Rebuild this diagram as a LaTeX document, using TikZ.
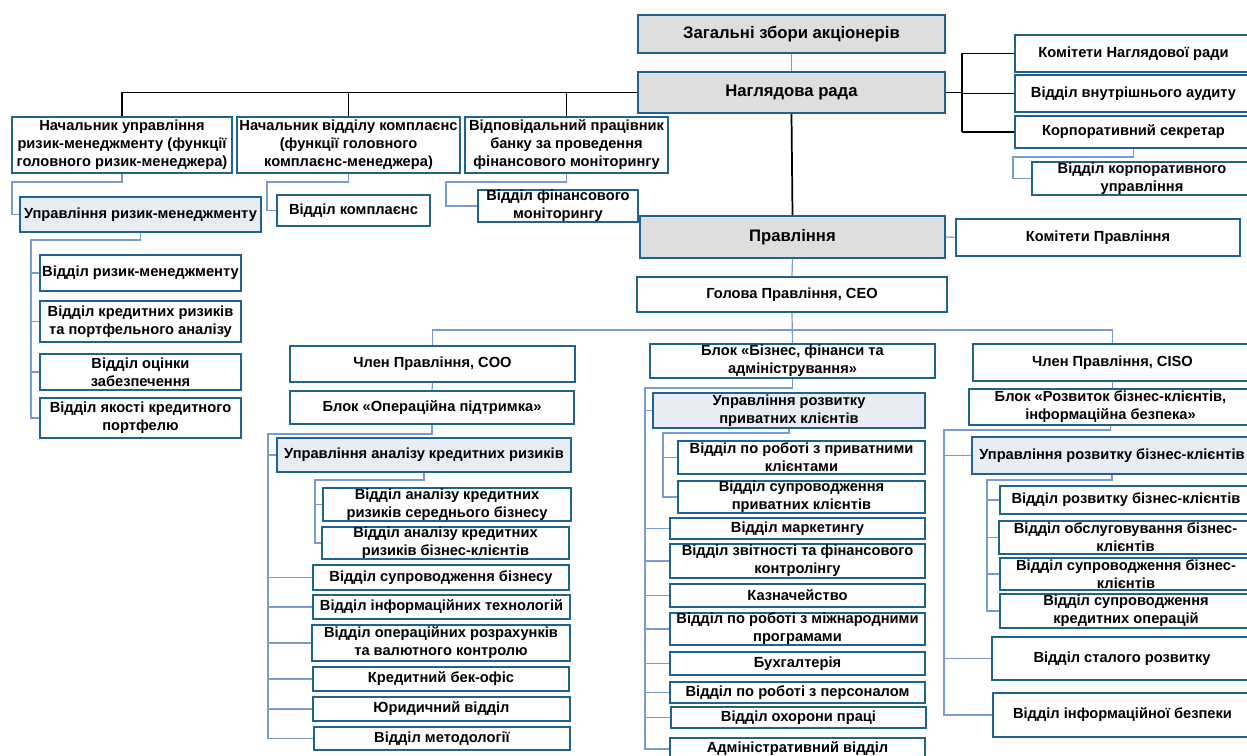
\documentclass[tikz,border=0pt]{standalone}
\usepackage{fontspec}
\setmainfont{Liberation Sans}
\definecolor{bord}{RGB}{31,100,145}
\definecolor{connc}{RGB}{120,155,210}
\definecolor{gfill}{RGB}{222,222,222}
\definecolor{lfill}{RGB}{232,237,245}
\tikzset{
 box/.style={draw=bord, line width=1.3pt, fill=white, align=center, font=\bfseries\fontsize{11}{13.5}\selectfont, inner sep=0pt},
 gbox/.style={box, fill=gfill, font=\bfseries\fontsize{12.5}{14}\selectfont},
 lbox/.style={box, fill=lfill},
 blk/.style={draw=black, line width=1.3pt},
 conn/.style={draw=connc, line width=0.9pt},
}
\newcommand\obox[7]{%
 \pgfmathsetlengthmacro\bxw{(#4-#2)*0.75pt}%
 \pgfmathsetlengthmacro\bxh{(#5-#3)*0.75pt}%
 \node[#6, minimum width=\bxw, minimum height=\bxh] (#1) at ({(#2+#4)/2},{(#3+#5)/2}) {#7};}
\begin{document}
\begin{tikzpicture}[x=0.75pt,y=-0.75pt]
\path[use as bounding box, fill=white] (0,0) rectangle (1247,756);
% top level
\obox{zb}{638}{15}{945}{53}{gbox}{Загальні збори акціонерів}
\obox{nr}{638}{72}{945}{113}{gbox}{Наглядова рада}
\obox{k1}{1015}{35}{1252}{72}{box}{Комітети Наглядової ради}
\obox{va}{1015}{75}{1252}{112}{box}{Відділ внутрішнього аудиту}
\obox{ks}{1015}{116}{1252}{148}{box}{Корпоративний секретар}
\obox{vku}{1032}{162}{1252}{195}{box}{Відділ корпоративного\\управління}
\obox{b1}{12}{117}{232}{173}{box}{Начальник управління\\ризик-менеджменту (функції\\головного ризик-менеджера)}
\obox{b2}{237}{117}{460}{173}{box}{Начальник відділу комплаєнс\\(функції головного\\комплаєнс-менеджера)}
\obox{b3}{465}{117}{668}{173}{box}{Відповідальний працівник\\банку за проведення\\фінансового моніторингу}
\obox{urm}{20}{197}{261}{232}{lbox}{Управління ризик-менеджменту}
\obox{vk}{277}{195}{430}{226}{box}{Відділ комплаєнс}
\obox{vfm}{478}{190}{638}{222}{box}{Відділ фінансового\\моніторингу}
\obox{pr}{640}{216}{945}{258}{gbox}{Правління}
\obox{kp}{956}{219}{1240}{256}{box}{Комітети Правління}
\obox{ceo}{637}{277}{947}{312}{box}{Голова Правління, CEO}
% risk management
\obox{v1}{40}{255}{241}{291}{box}{Відділ ризик-менеджменту}
\obox{v2}{40}{301}{241}{342}{box}{Відділ кредитних ризиків\\та портфельного аналізу}
\obox{v3}{40}{354}{241}{390}{box}{Відділ оцінки\\забезпечення}
\obox{v4}{40}{398}{241}{438}{box}{Відділ якості кредитного\\портфелю}
% COO
\obox{coo}{290}{346}{575}{382}{box}{Член Правління, COO}
\obox{ob}{290}{391}{574}{424}{box}{Блок «Операційна підтримка»}
\obox{uakr}{277}{438}{571}{472}{lbox}{Управління аналізу кредитних ризиків}
\obox{akb}{323}{488}{571}{521}{box}{Відділ аналізу кредитних\\ризиків середнього бізнесу}
\obox{aks}{322}{527}{569}{559}{box}{Відділ аналізу кредитних\\ризиків бізнес-клієнтів}
\obox{vsb}{313}{565}{569}{590}{box}{Відділ супроводження бізнесу}
\obox{vit}{313}{595}{570}{619}{box}{Відділ інформаційних технологій}
\obox{vor}{312}{625}{570}{661}{box}{Відділ операційних розрахунків\\та валютного контролю}
\obox{kbo}{313}{667}{569}{691}{box}{Кредитний бек-офіс}
\obox{yur}{313}{697}{570}{721}{box}{Юридичний відділ}
\obox{meth}{314}{727}{570}{750}{box}{Відділ методології}
% middle block
\obox{bfa}{650}{344}{935}{378}{box}{Блок «Бізнес, фінанси та\\адміністрування»}
\obox{urpk}{653}{393}{925}{428}{lbox}{Управління розвитку\\приватних клієнтів}
\obox{vpr}{678}{441}{925}{474}{box}{Відділ по роботі з приватними\\клієнтами}
\obox{vsp}{678}{481}{925}{513}{box}{Відділ супроводження\\приватних клієнтів}
\obox{mark}{670}{518}{925}{539}{box}{Відділ маркетингу}
\obox{zvit}{670}{544}{925}{578}{box}{Відділ звітності та фінансового\\контролінгу}
\obox{kazn}{670}{584}{925}{607}{box}{Казначейство}
\obox{mizh}{670}{613}{925}{645}{box}{Відділ по роботі з міжнародними\\програмами}
\obox{buh}{670}{652}{925}{675}{box}{Бухгалтерія}
\obox{pers}{670}{682}{925}{703}{box}{Відділ по роботі з персоналом}
\obox{ohor}{671}{707}{926}{728}{box}{Відділ охорони праці}
\obox{adm}{670}{738}{925}{760}{box}{Адміністративний відділ}
% CISO
\obox{ciso}{973}{344}{1252}{381}{box}{Член Правління, CISO}
\obox{brb}{969}{389}{1252}{425}{box}{Блок «Розвиток бізнес-клієнтів,\\інформаційна безпека»}
\obox{urbk}{972}{437}{1252}{474}{lbox}{Управління розвитку бізнес-клієнтів}
\obox{vrbk}{1000}{486}{1252}{514}{box}{Відділ розвитку бізнес-клієнтів}
\obox{vobk}{999}{521}{1252}{554}{box}{Відділ обслуговування бізнес-\\клієнтів}
\obox{vsbk}{1000}{558}{1252}{590}{box}{Відділ супроводження бізнес-\\клієнтів}
\obox{vsko}{1000}{594}{1252}{628}{box}{Відділ супроводження\\кредитних операцій}
\obox{vsr}{992}{637}{1252}{680}{box}{Відділ сталого розвитку}
\obox{vib}{993}{693}{1252}{737}{box}{Відділ інформаційної безпеки}

% ---- connectors: top
\draw[conn] (zb.south) -- (nr.north);
\coordinate (tl) at (b1.north |- nr.west);
\draw[blk] (nr.west) -- (tl) -- (b1.north);
\draw[blk] (b2.north) -- (b2.north |- nr.west);
\draw[blk] (b3.north) -- (b3.north |- nr.west);
\draw[blk] (nr.south) -- (pr.north);
\coordinate (rs) at (962,93);
\draw[blk] (nr.east) -- (rs |- nr.east);
\draw[blk] (rs |- k1.west) -- (k1.west);
\draw[blk] (rs |- ks.west) -- (ks.west);
\draw[blk] (rs |- va.west) -- (va.west);
\draw[blk] (rs |- k1.west) -- (rs |- ks.west);
\coordinate (c0) at (1013,157);
\draw[conn] (ks.south) |- (c0) |- (vku.west);
\coordinate (c1) at (12,182);
\draw[conn] (b1.south) |- (c1) |- (urm.west);
\coordinate (c2) at (267,182);
\draw[conn] (b2.south) |- (c2) |- (vk.west);
\coordinate (c3) at (446,182);
\draw[conn] (b3.south) |- (c3) |- (vfm.west);
\draw[conn] (pr.east) -- (kp.west);
\draw[conn] (pr.south) -- (ceo.north);
% risk
\coordinate (s1) at (31,240);
\draw[conn] (urm.south) |- (s1) |- (v4.west);
\foreach \n in {v1,v2,v3} \draw[conn] (s1 |- \n.west) -- (\n.west);
% CEO fan-out
\coordinate (hb) at (791,330);
\draw[conn] (coo.north) |- (hb) -| (ciso.north);
\draw[conn] (ceo.south) -- (bfa.north);
% COO
\draw[conn] (coo.south) -- (ob.north);
\coordinate (s2) at (268,434);
\draw[conn] (ob.south) |- (s2) |- (meth.west);
\foreach \n in {uakr,vsb,vit,vor,kbo,yur} \draw[conn] (s2 |- \n.west) -- (\n.west);
\coordinate (s3) at (315,480);
\draw[conn] (uakr.south) |- (s3) |- (aks.west);
\draw[conn] (s3 |- akb.west) -- (akb.west);
% middle
\coordinate (s4) at (645,388);
\draw[conn] (bfa.south) |- (s4) |- (adm.west);
\foreach \n in {urpk,mark,zvit,kazn,mizh,buh,pers,ohor} \draw[conn] (s4 |- \n.west) -- (\n.west);
\coordinate (s5) at (663,433);
\draw[conn] (urpk.south) |- (s5) |- (vsp.west);
\draw[conn] (s5 |- vpr.west) -- (vpr.west);
% CISO
\draw[conn] (ciso.south) -- (ciso.south |- brb.north);
\coordinate (s6) at (944,430);
\draw[conn] (brb.south) |- (s6) |- (vib.west);
\foreach \n in {urbk,vsr} \draw[conn] (s6 |- \n.west) -- (\n.west);
\coordinate (s7) at (987,480);
\draw[conn] (urbk.south) |- (s7) |- (vsko.west);
\foreach \n in {vrbk,vobk,vsbk} \draw[conn] (s7 |- \n.west) -- (\n.west);
\end{tikzpicture}
\end{document}
